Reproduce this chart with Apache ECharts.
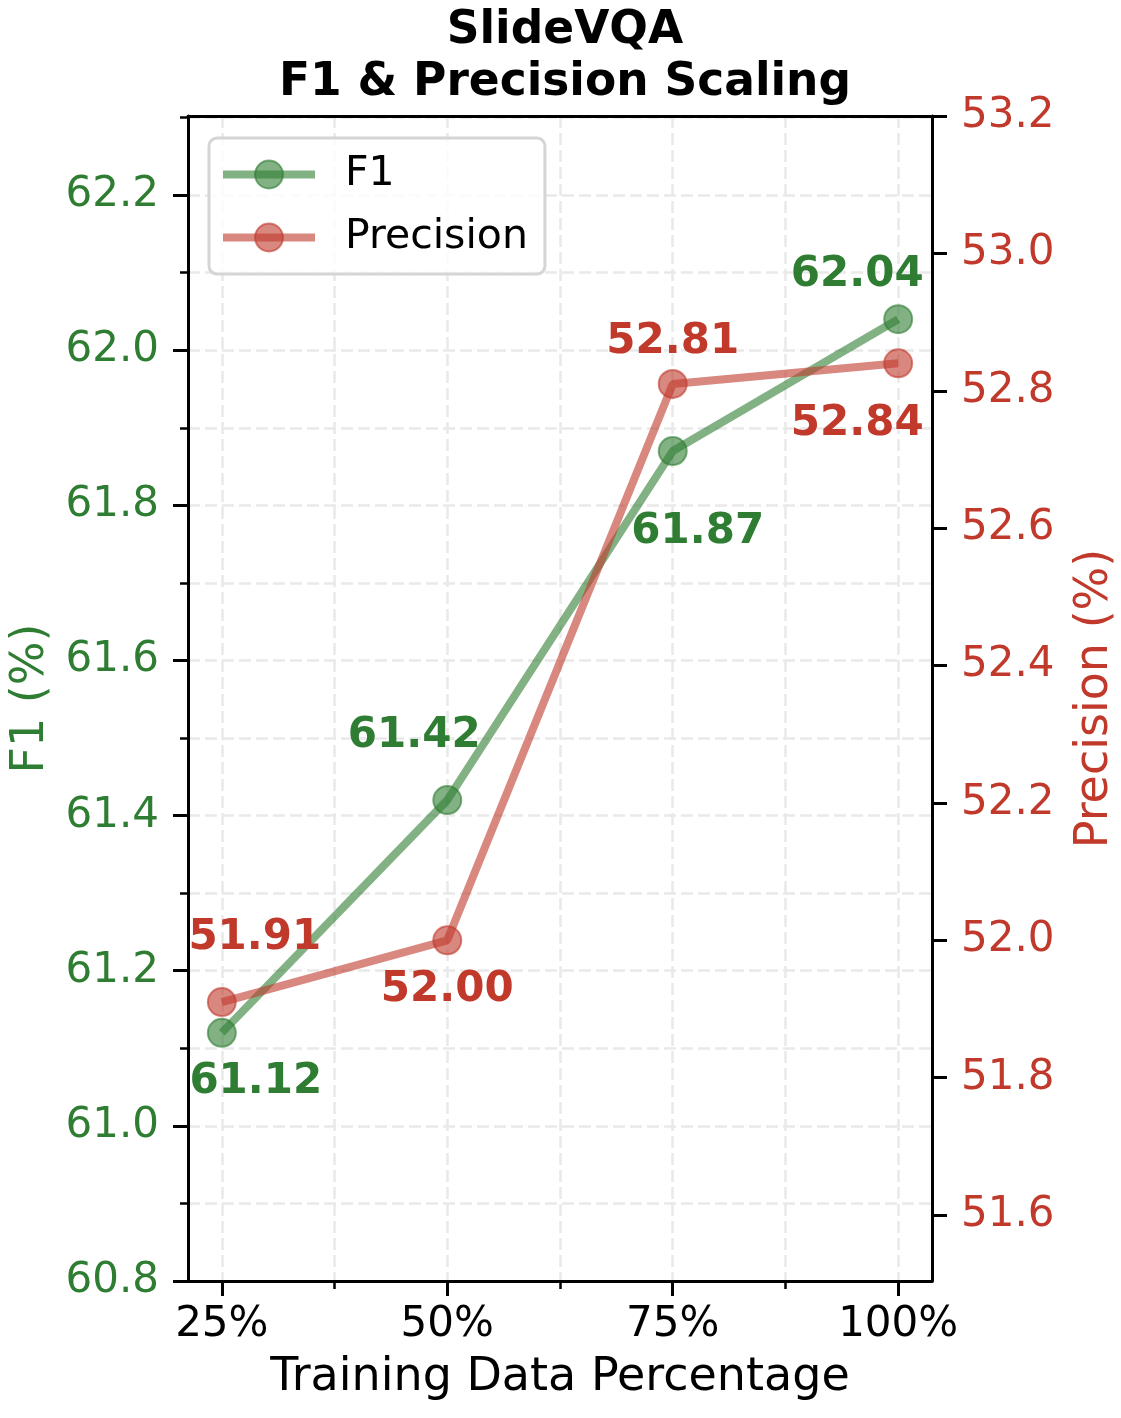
<!DOCTYPE html>
<html>
<head>
<meta charset="utf-8">
<title>SlideVQA F1 & Precision Scaling</title>
<script src="https://cdn.jsdelivr.net/npm/echarts@6.0.0/dist/echarts.min.js"></script>
<style>
  html, body { margin: 0; padding: 0; background: #fff; }
  #chart { width: 1121px; height: 1418px; }
</style>
</head>
<body>
<div id="chart"></div>
<script>
// data
var categories = ['25%', '50%', '75%', '100%'];
var f1Values = [61.12, 61.42, 61.87, 62.04];
var precisionValues = [51.91, 52.00, 52.81, 52.84];

// tick values
var xTicks = [1, 2, 3, 4];
var xMinorTicks = [1.5, 2.5, 3.5];
var f1Ticks = [60.8, 61.0, 61.2, 61.4, 61.6, 61.8, 62.0, 62.2];
var f1MinorTicks = [60.9, 61.1, 61.3, 61.5, 61.7, 61.9, 62.1, 62.3];
var precisionTicks = [51.6, 51.8, 52.0, 52.2, 52.4, 52.6, 52.8, 53.0, 53.2];

// where the value labels sit relative to their point
var f1LabelOffsets = [[34, 49], [-33, -64], [25, 81], [-41, -44]];
var precisionLabelOffsets = [[33, -64], [0, 50], [0, -42], [-41, 61]];

var GREEN = '#2e7d32';
var RED = '#c0392b';
var GREEN_A = 'rgba(46,125,50,0.6)';
var RED_A = 'rgba(192,57,43,0.6)';
var FONT = 'DejaVu Sans';

var myChart = echarts.init(document.getElementById('chart'), null, {renderer: 'canvas'});

function buildData(values, offsets) {
  return values.map(function(v, i) {
    return {
      value: [xTicks[i], v],
      label: {position: 'inside', offset: offsets[i]}
    };
  });
}

var spine = {show: true, onZero: false, lineStyle: {color: '#000', width: 3}};
var gridLine = {show: true, lineStyle: {color: '#e9e9e9', width: 2.5, type: [12, 5]}};

var option = {
  backgroundColor: '#fff',
  animation: false,
  textStyle: {fontFamily: FONT},
  title: {
    text: 'SlideVQA\nF1 & Precision Scaling',
    left: 560,
    textAlign: 'center',
    top: 0,
    textStyle: {fontFamily: FONT, fontSize: 45.5, fontWeight: 'bold', color: '#000', lineHeight: 52}
  },
  legend: {
    data: ['F1', 'Precision'],
    orient: 'vertical',
    left: 209,
    top: 138,
    itemWidth: 92,
    itemHeight: 35,
    itemGap: 22,
    padding: [16, 17, 16, 10],
    backgroundColor: 'rgba(255,255,255,0.8)',
    borderColor: '#d5d5d5',
    borderWidth: 3,
    borderRadius: 8,
    lineStyle: {width: 8},
    textStyle: {fontFamily: FONT, fontSize: 41, color: '#000', padding: [0, 0, 0, 25]}
  },
  grid: {
    left: 188,
    right: 189,
    top: 116,
    bottom: 137,
    outerBoundsMode: 'none'
  },
  xAxis: [
    {
      // main axis with labels
      type: 'value', min: 0.85, max: 4.15, position: 'bottom', z: 3,
      axisLine: spine,
      axisTick: {show: true, customValues: xTicks, length: 15, lineStyle: {color: '#000', width: 3}},
      axisLabel: {show: true, customValues: xTicks, margin: 23, fontSize: 42, color: '#000', fontFamily: FONT,
        formatter: function(v) { return categories[Math.round(v) - 1]; }},
      splitLine: {show: false},
      name: 'Training Data Percentage', nameLocation: 'middle', nameGap: 74,
      nameTextStyle: {fontSize: 46, color: '#000', fontFamily: FONT}
    },
    {
      // minor ticks
      type: 'value', min: 0.85, max: 4.15, position: 'bottom', z: 3,
      axisLine: {show: false},
      axisTick: {show: true, customValues: xMinorTicks, length: 8, lineStyle: {color: '#000', width: 2.5}},
      axisLabel: {show: false},
      splitLine: {show: false}
    },
    {
      // grid lines
      type: 'value', min: 0.85, max: 4.15, position: 'bottom', z: 1,
      axisLine: {show: false},
      axisTick: {show: false, customValues: [1, 1.5, 2, 2.5, 3, 3.5, 4]},
      axisLabel: {show: false},
      splitLine: gridLine
    },
    {
      // top spine
      type: 'value', min: 0.85, max: 4.15, position: 'top', z: 3,
      axisLine: spine,
      axisTick: {show: false},
      axisLabel: {show: false},
      splitLine: {show: false}
    }
  ],
  yAxis: [
    {
      type: 'value', min: 60.8, max: 62.302, position: 'left', z: 3,
      axisLine: spine,
      axisTick: {show: true, customValues: f1Ticks, length: 15, lineStyle: {color: '#000', width: 3}},
      axisLabel: {show: true, customValues: f1Ticks, margin: 29, fontSize: 42, color: GREEN, fontFamily: FONT,
        formatter: function(v) { return v.toFixed(1); }},
      splitLine: {show: false},
      name: 'F1 (%)', nameLocation: 'middle', nameRotate: 90, nameGap: 134,
      nameTextStyle: {fontSize: 46, color: GREEN, fontFamily: FONT}
    },
    {
      type: 'value', min: 60.8, max: 62.302, position: 'left', z: 3,
      axisLine: {show: false},
      axisTick: {show: true, customValues: f1MinorTicks, length: 8, lineStyle: {color: '#000', width: 2.5}},
      axisLabel: {show: false},
      splitLine: {show: false}
    },
    {
      type: 'value', min: 51.504, max: 53.2, position: 'right', z: 3,
      axisLine: spine,
      axisTick: {show: true, customValues: precisionTicks, length: 15, lineStyle: {color: '#000', width: 3}},
      axisLabel: {show: true, customValues: precisionTicks, margin: 29, fontSize: 42, color: RED, fontFamily: FONT,
        formatter: function(v) { return v.toFixed(1); }},
      splitLine: {show: false},
      name: 'Precision (%)', nameLocation: 'middle', nameRotate: 90, nameGap: 140,
      nameTextStyle: {fontSize: 46, color: RED, fontFamily: FONT}
    },
    {
      // grid lines
      type: 'value', min: 60.8, max: 62.302, position: 'left', z: 1,
      axisLine: {show: false},
      axisTick: {show: false, customValues: f1Ticks.concat(f1MinorTicks)},
      axisLabel: {show: false},
      splitLine: gridLine
    }
  ],
  series: [
    {
      name: 'F1',
      type: 'line',
      xAxisIndex: 0,
      yAxisIndex: 0,
      data: buildData(f1Values, f1LabelOffsets),
      symbol: 'circle',
      symbolSize: 28,
      lineStyle: {color: GREEN_A, width: 8},
      itemStyle: {color: GREEN_A, borderColor: GREEN_A, borderWidth: 2},
      label: {show: true, fontSize: 42, fontWeight: 'bold', color: GREEN, fontFamily: FONT,
        formatter: function(p) { return p.value[1].toFixed(2); }},
      emphasis: {disabled: true}
    },
    {
      name: 'Precision',
      type: 'line',
      xAxisIndex: 0,
      yAxisIndex: 2,
      data: buildData(precisionValues, precisionLabelOffsets),
      symbol: 'circle',
      symbolSize: 28,
      lineStyle: {color: RED_A, width: 8},
      itemStyle: {color: RED_A, borderColor: RED_A, borderWidth: 2},
      label: {show: true, fontSize: 42, fontWeight: 'bold', color: RED, fontFamily: FONT,
        formatter: function(p) { return p.value[1].toFixed(2); }},
      emphasis: {disabled: true}
    }
  ]
};

myChart.setOption(option);
</script>
</body>
</html>
